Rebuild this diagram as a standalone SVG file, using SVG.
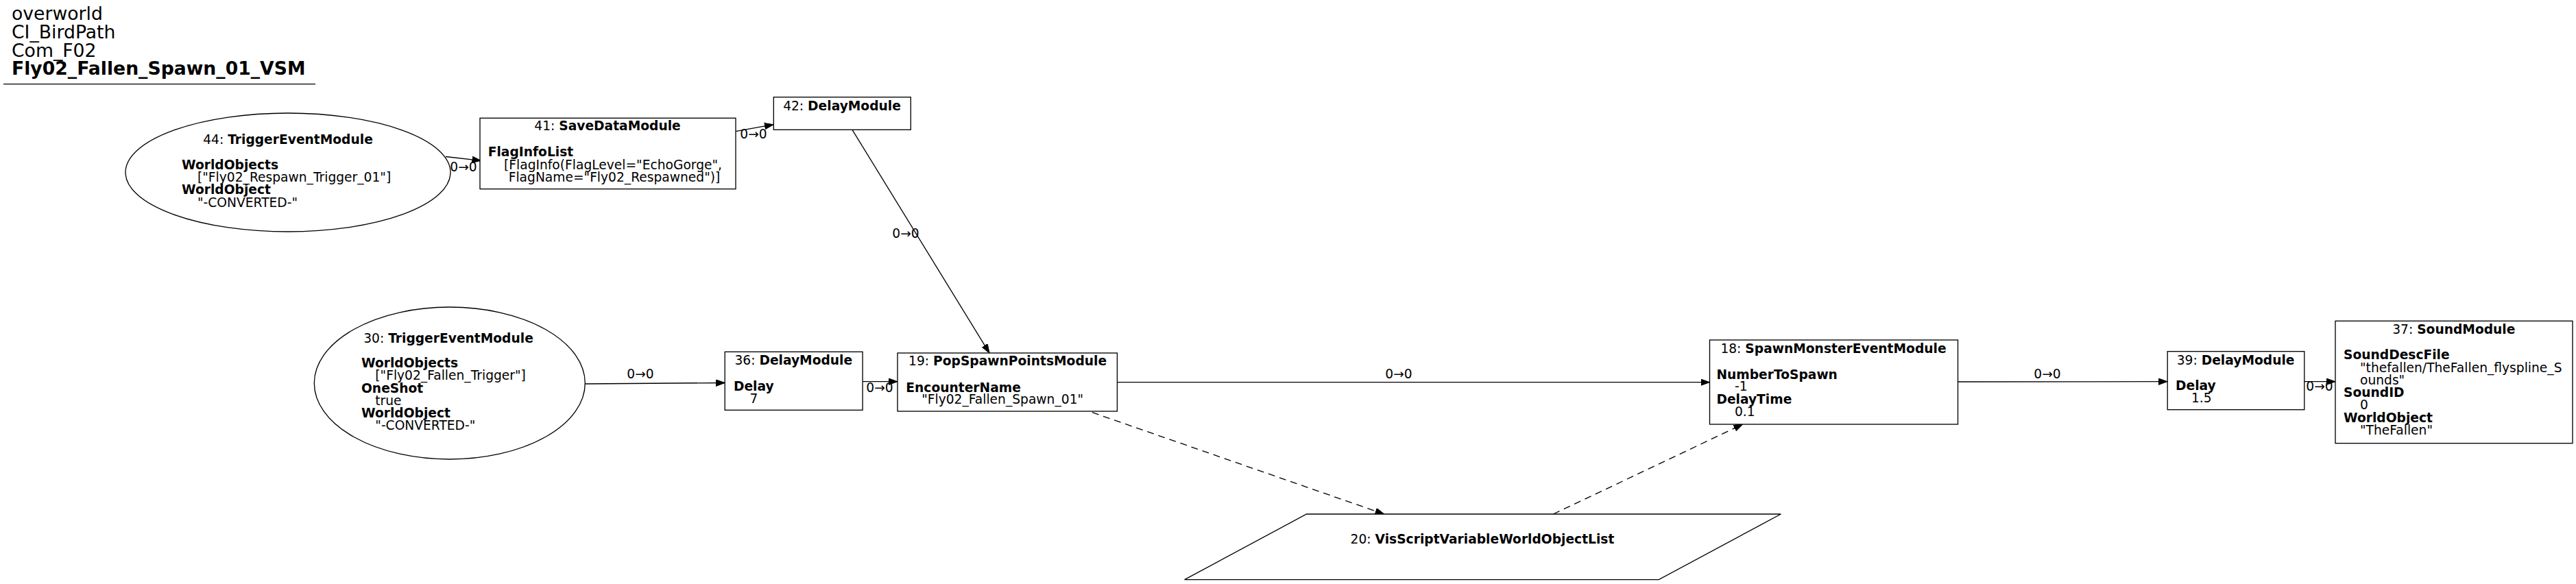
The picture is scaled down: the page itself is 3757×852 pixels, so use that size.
<svg xmlns="http://www.w3.org/2000/svg" width="3757" height="852" viewBox="0 0 3757 852">
<style>
text{font-family:"DejaVu Sans","Liberation Sans",sans-serif;font-size:18.67px;fill:#000}
.b{font-weight:bold}
.t{font-size:26.67px}
.c{text-anchor:middle}
.n{fill:#fff;stroke:#000;stroke-width:1.33}
.e{fill:none;stroke:#000;stroke-width:1.33}
.d{stroke-dasharray:10,7}
</style>
<defs>
<marker id="a" markerUnits="userSpaceOnUse" markerWidth="14" markerHeight="10" refX="13" refY="4.7" orient="auto">
<path d="M0,0 L13,4.7 L0,9.4 z" fill="#000" stroke="#000" stroke-width="1"/>
</marker>
</defs>
<rect width="3757" height="852" fill="#fff"/>
<g id="title">
<text class="t" x="17" y="29">overworld</text>
<text class="t" x="17" y="56">CI_BirdPath</text>
<text class="t" x="17" y="82.7">Com_F02</text>
<text class="t b" x="17" y="109.3">Fly02_Fallen_Spawn_01_VSM</text>
<line x1="5" y1="122.7" x2="460" y2="122.7" stroke="#000" stroke-width="1.33"/>
</g>
<g id="edges">
<path class="e" d="M650,228.5 L701.5,234.3" marker-end="url(#a)"/>
<text class="c" x="676" y="250">0→0</text>
<path class="e" d="M1073,191.7 L1128,181.7" marker-end="url(#a)"/>
<text class="c" x="1099" y="201.7">0→0</text>
<path class="e" d="M1243,189.3 L1443,515" marker-end="url(#a)"/>
<text class="c" x="1321" y="346.7">0→0</text>
<path class="e" d="M853,560 L1057.2,558.5" marker-end="url(#a)"/>
<text class="c" x="934" y="552">0→0</text>
<path class="e" d="M1258.1,556.7 L1309,556.7" marker-end="url(#a)"/>
<text class="c" x="1283" y="571.7">0→0</text>
<path class="e" d="M1629.4,557.7 L2493.5,557.7" marker-end="url(#a)"/>
<text class="c" x="2040" y="551.7">0→0</text>
<path class="e" d="M2855.5,557 L3161,556.7" marker-end="url(#a)"/>
<text class="c" x="2986" y="551.7">0→0</text>
<path class="e" d="M3360.8,556.7 L3406,556.7" marker-end="url(#a)"/>
<text class="c" x="3383" y="570">0→0</text>
<path class="e d" d="M1593,601.7 L2018.6,750" marker-end="url(#a)"/>
<path class="e d" d="M2265.4,750 L2541.6,619" marker-end="url(#a)"/>
</g>
<g id="n44">
<ellipse class="n" cx="420" cy="251.5" rx="237" ry="86.5"/>
<text class="c" x="420" y="210">44: <tspan class="b">TriggerEventModule</tspan></text>
<text class="b" x="265" y="246.7">WorldObjects</text>
<text x="288" y="265">["Fly02_Respawn_Trigger_01"]</text>
<text class="b" x="265" y="283.3">WorldObject</text>
<text x="288" y="301.7">"-CONVERTED-"</text>
</g>
<g id="n41">
<rect class="n" x="700" y="172.3" width="373" height="103.4"/>
<text class="c" x="886" y="190">41: <tspan class="b">SaveDataModule</tspan></text>
<text class="b" x="711.7" y="228.3">FlagInfoList</text>
<text x="735" y="246.7">[FlagInfo(FlagLevel="EchoGorge",</text>
<text x="741.7" y="265">FlagName="Fly02_Respawned")]</text>
</g>
<g id="n42">
<rect class="n" x="1128.3" y="141.7" width="200" height="47.6"/>
<text class="c" x="1228" y="160.7">42: <tspan class="b">DelayModule</tspan></text>
</g>
<g id="n30">
<ellipse class="n" cx="655.8" cy="559" rx="197.5" ry="111"/>
<text class="c" x="654" y="500">30: <tspan class="b">TriggerEventModule</tspan></text>
<text class="b" x="527" y="536">WorldObjects</text>
<text x="547.3" y="554">["Fly02_Fallen_Trigger"]</text>
<text class="b" x="527" y="572.7">OneShot</text>
<text x="547.3" y="590.7">true</text>
<text class="b" x="527" y="609.3">WorldObject</text>
<text x="547.3" y="627.3">"-CONVERTED-"</text>
</g>
<g id="n36">
<rect class="n" x="1057.2" y="513.3" width="200.9" height="85"/>
<text class="c" x="1157.3" y="531.7">36: <tspan class="b">DelayModule</tspan></text>
<text class="b" x="1069.9" y="570">Delay</text>
<text x="1093.6" y="588.3">7</text>
</g>
<g id="n19">
<rect class="n" x="1309" y="515" width="320.4" height="85"/>
<text class="c" x="1469.6" y="533.3">19: <tspan class="b">PopSpawnPointsModule</tspan></text>
<text class="b" x="1321.3" y="571.7">EncounterName</text>
<text x="1344.2" y="589.3">"Fly02_Fallen_Spawn_01"</text>
</g>
<g id="n18">
<rect class="n" x="2493.5" y="496" width="362" height="123"/>
<text class="c" x="2674" y="515">18: <tspan class="b">SpawnMonsterEventModule</tspan></text>
<text class="b" x="2503.4" y="552.7">NumberToSpawn</text>
<text x="2530" y="570">-1</text>
<text class="b" x="2503.4" y="589">DelayTime</text>
<text x="2530" y="607.3">0.1</text>
</g>
<g id="n20">
<polygon class="n" points="1905.5,750 2597.3,750 2419.3,845.7 1727.6,845.7"/>
<text class="c" x="2162" y="792.7">20: <tspan class="b">VisScriptVariableWorldObjectList</tspan></text>
</g>
<g id="n39">
<rect class="n" x="3161.2" y="512.7" width="199.6" height="85"/>
<text class="c" x="3260.6" y="531.7">39: <tspan class="b">DelayModule</tspan></text>
<text class="b" x="3173" y="569.3">Delay</text>
<text x="3196" y="586.7">1.5</text>
</g>
<g id="n37">
<rect class="n" x="3406" y="468.3" width="346" height="178.4"/>
<text class="c" x="3578.8" y="487.3">37: <tspan class="b">SoundModule</tspan></text>
<text class="b" x="3418" y="524">SoundDescFile</text>
<text x="3442" y="542.7">"thefallen/TheFallen_flyspline_S</text>
<text x="3442" y="561">ounds"</text>
<text class="b" x="3418" y="579.3">SoundID</text>
<text x="3442" y="597.3">0</text>
<text class="b" x="3418" y="615.7">WorldObject</text>
<text x="3442" y="634">"TheFallen"</text>
</g>
</svg>
